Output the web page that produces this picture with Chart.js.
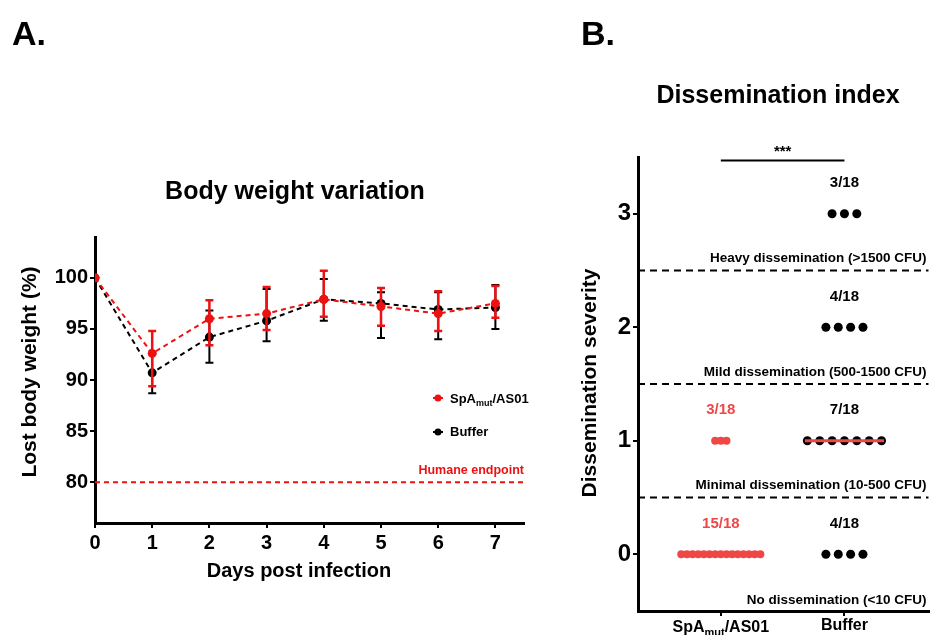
<!DOCTYPE html>
<html><head><meta charset="utf-8">
<script src="https://cdn.jsdelivr.net/npm/chart.js@4.4.0/dist/chart.umd.min.js"></script>
<style>
html,body{margin:0;padding:0;background:#fff;width:933px;height:635px;overflow:hidden}
#wa{position:absolute;left:0;top:0;width:560px;height:635px}
#wb{position:absolute;left:560px;top:0;width:373px;height:635px}
</style></head><body>
<div id="wa"><canvas id="ca"></canvas></div>
<div id="wb"><canvas id="cb"></canvas></div>
<script>
// ---------- Panel A data ----------
const days = [0, 1, 2, 3, 4, 5, 6, 7];
const spaMean = [100, 92.6, 96.0, 96.5, 97.9, 97.2, 96.5, 97.5];
const spaLow  = [100, 89.4, 93.4, 94.9, 96.2, 95.3, 94.8, 96.1];
const spaHigh = [100, 94.8, 97.8, 99.1, 100.7, 99.0, 98.7, 99.2];
const bufMean = [100, 90.7, 94.2, 95.8, 97.9, 97.5, 96.9, 97.1];
const bufLow  = [100, 88.7, 91.7, 93.8, 95.8, 94.1, 94.0, 95.0];
const bufHigh = [100, 92.6, 96.8, 98.9, 99.9, 98.6, 98.6, 99.3];
const weightTicks = [80, 85, 90, 95, 100];
const dayTicks = [0, 1, 2, 3, 4, 5, 6, 7];
const humaneEndpoint = 80;

// ---------- Panel B data ----------
const groupPos = [1, 2];
const severityLevels = [0, 1, 2, 3];
const spaCounts = [15, 3, 0, 0];
const bufCounts = [4, 7, 4, 3];
const totalN = 18;
const spaMedian = 0;
const bufMedian = 1;
const severityTicks = [0, 1, 2, 3];
const thresholds = [2.5, 1.5, 0.5];
const thresholdLabels = ['Heavy dissemination (>1500 CFU)', 'Mild dissemination (500-1500 CFU)', 'Minimal dissemination (10-500 CFU)'];
const belowLabel = 'No dissemination (<10 CFU)';

const FONT = "'Liberation Sans', Arial, sans-serif";
const RED = '#ee1111';
const RED2 = '#ef4646';

function txt(ctx, s, x, y, size, color, align, rot) {
  ctx.save();
  ctx.font = 'bold ' + size + 'px ' + FONT;
  ctx.fillStyle = color;
  ctx.textAlign = align || 'center';
  ctx.textBaseline = 'middle';
  ctx.translate(x, y);
  if (rot) ctx.rotate(rot);
  ctx.fillText(s, 0, 0);
  ctx.restore();
}
// draw "SpA" + subscript "mut" + "/AS01"
function subTxt(ctx, x, y, size, align) {
  ctx.save();
  ctx.fillStyle = '#000';
  ctx.textBaseline = 'alphabetic';
  const big = 'bold ' + size + 'px ' + FONT, small = 'bold ' + Math.round(size * 0.68) + 'px ' + FONT;
  ctx.font = big; const w1 = ctx.measureText('SpA').width, w3 = ctx.measureText('/AS01').width;
  ctx.font = small; const w2 = ctx.measureText('mut').width;
  const total = w1 + w2 + w3;
  let x0 = align === 'center' ? x - total / 2 : x;
  const base = y + size * 0.36;
  ctx.textAlign = 'left';
  ctx.font = big; ctx.fillText('SpA', x0, base);
  ctx.font = small; ctx.fillText('mut', x0 + w1, base + size * 0.25);
  ctx.font = big; ctx.fillText('/AS01', x0 + w1 + w2, base);
  ctx.restore();
}

const errorBars = {
  id: 'errorBars',
  beforeDatasetDraw(chart, args) {
    const ds = chart.data.datasets[args.index];
    if (!ds.errLow) return;
    const ctx = chart.ctx, xs = chart.scales.x, ys = chart.scales.y;
    ctx.save();
    ctx.strokeStyle = ds.borderColor;
    ctx.lineWidth = ds.errWidth;
    ds.data.forEach((p, i) => {
      const px = xs.getPixelForValue(p.x);
      const y1 = ys.getPixelForValue(ds.errLow[i]), y2 = ys.getPixelForValue(ds.errHigh[i]);
      if (Math.abs(y1 - y2) < 1) return;
      ctx.beginPath();
      ctx.moveTo(px, y1); ctx.lineTo(px, y2);
      ctx.moveTo(px - 4, y1); ctx.lineTo(px + 4, y1);
      ctx.moveTo(px - 4, y2); ctx.lineTo(px + 4, y2);
      ctx.stroke();
    });
    ctx.restore();
  }
};

const panelA = {
  id: 'panelA',
  beforeDatasetsDraw(chart) {
    const ctx = chart.ctx, ca = chart.chartArea, ys = chart.scales.y;
    const y = ys.getPixelForValue(humaneEndpoint);
    ctx.save();
    ctx.strokeStyle = RED; ctx.lineWidth = 2; ctx.setLineDash([5, 4]);
    ctx.beginPath(); ctx.moveTo(ca.left, y); ctx.lineTo(ca.right, y); ctx.stroke();
    ctx.restore();
  },
  afterDraw(chart) {
    const ctx = chart.ctx, ca = chart.chartArea, ys = chart.scales.y;
    txt(ctx, 'A.', 12, 36, 34, '#000', 'left');
    txt(ctx, 'Body weight variation', 295, 192, 25, '#000', 'center');
    txt(ctx, 'Lost body weight (%)', 30, 372, 21, '#000', 'center', -Math.PI / 2);
    txt(ctx, 'Days post infection', 299, 571, 20, '#000', 'center');
    txt(ctx, 'Humane endpoint', ca.right, ys.getPixelForValue(humaneEndpoint) - 12, 12.5, RED, 'right');
    // legend
    const items = [{c: RED, y: 398}, {c: '#000', y: 432}];
    items.forEach(it => {
      ctx.save();
      ctx.strokeStyle = it.c; ctx.fillStyle = it.c; ctx.lineWidth = 2;
      ctx.beginPath(); ctx.moveTo(433, it.y); ctx.lineTo(443, it.y); ctx.stroke();
      ctx.beginPath(); ctx.arc(438, it.y, 3.5, 0, Math.PI * 2); ctx.fill();
      ctx.restore();
    });
    subTxt(ctx, 450, 398, 13, 'left');
    txt(ctx, 'Buffer', 450, 432, 13, '#000', 'left');
  }
};

const pts = (arr) => days.map((d, i) => ({x: d, y: arr[i]}));

new Chart(document.getElementById('ca'), {
  type: 'line',
  data: {
    datasets: [
      {label: 'SpAmut/AS01', data: pts(spaMean), errLow: spaLow, errHigh: spaHigh, errWidth: 2.5,
       borderColor: RED, backgroundColor: RED, borderWidth: 2, borderDash: [5, 4],
       pointRadius: 4.5, pointBackgroundColor: RED, pointBorderWidth: 0, tension: 0},
      {label: 'Buffer', data: pts(bufMean), errLow: bufLow, errHigh: bufHigh, errWidth: 2,
       borderColor: '#000', backgroundColor: '#000', borderWidth: 2, borderDash: [5, 4],
       pointRadius: 4.5, pointBackgroundColor: '#000', pointBorderWidth: 0, tension: 0}
    ]
  },
  options: {
    responsive: true, maintainAspectRatio: false, animation: false,
    layout: {padding: {top: 237, right: 36, left: 0, bottom: 0}},
    plugins: {legend: {display: false}, tooltip: {enabled: false}, title: {display: false}},
    scales: {
      x: {type: 'linear', min: 0, max: 7.5,
          afterBuildTicks: s => { s.ticks = dayTicks.map(v => ({value: v})); },
          afterFit: s => { s.height = 112; },
          ticks: {color: '#000', font: {family: FONT, size: 20, weight: 'bold'}, padding: 3, maxRotation: 0, autoSkip: false},
          grid: {drawOnChartArea: false, drawTicks: true, tickLength: 5, color: '#000', lineWidth: 2},
          border: {color: '#000', width: 3}},
      y: {type: 'linear', min: 76, max: 104,
          afterBuildTicks: s => { s.ticks = weightTicks.map(v => ({value: v})); },
          afterFit: s => { s.width = 95; },
          ticks: {color: '#000', font: {family: FONT, size: 20, weight: 'bold'}, padding: 2},
          grid: {drawOnChartArea: false, drawTicks: true, tickLength: 5, color: '#000', lineWidth: 2},
          border: {color: '#000', width: 3}}
    }
  },
  plugins: [errorBars, panelA]
});

// ---------- Panel B ----------
function swarm(center, counts, spacing) {
  const out = [];
  severityLevels.forEach((lv, k) => {
    const n = counts[k];
    for (let i = 0; i < n; i++) out.push({x: center + (i - (n - 1) / 2) * spacing, y: lv});
  });
  return out;
}
const medianHalf = 0.32;

const panelB = {
  id: 'panelB',
  beforeDatasetsDraw(chart) {
    const ctx = chart.ctx, ca = chart.chartArea, ys = chart.scales.y;
    ctx.save();
    ctx.strokeStyle = '#000'; ctx.lineWidth = 2; ctx.setLineDash([7, 5]);
    thresholds.forEach(t => {
      const y = ys.getPixelForValue(t);
      ctx.beginPath(); ctx.moveTo(ca.left, y); ctx.lineTo(ca.right, y); ctx.stroke();
    });
    ctx.restore();
  },
  afterDraw(chart) {
    const ctx = chart.ctx, ca = chart.chartArea, xs = chart.scales.x, ys = chart.scales.y;
    txt(ctx, 'B.', 21, 36, 34, '#000', 'left');
    txt(ctx, 'Dissemination index', 218, 96, 25, '#000', 'center');
    txt(ctx, 'Dissemination severity', 30, 383, 21, '#000', 'center', -Math.PI / 2);
    thresholds.forEach((t, i) => txt(ctx, thresholdLabels[i], ca.right - 2, ys.getPixelForValue(t) - 12, 13.5, '#000', 'right'));
    txt(ctx, belowLabel, ca.right - 2, ys.getPixelForValue(-0.5) - 11, 13.5, '#000', 'right');
    severityLevels.forEach((lv, k) => {
      if (spaCounts[k] > 0) txt(ctx, spaCounts[k] + '/' + totalN, xs.getPixelForValue(groupPos[0]), ys.getPixelForValue(lv + 0.27), 15, RED2, 'center');
      if (bufCounts[k] > 0) txt(ctx, bufCounts[k] + '/' + totalN, xs.getPixelForValue(groupPos[1]), ys.getPixelForValue(lv + 0.27), 15, '#000', 'center');
    });
    // significance bar
    const yb = ys.getPixelForValue(3.47);
    const x1 = xs.getPixelForValue(groupPos[0]), x2 = xs.getPixelForValue(groupPos[1]);
    ctx.save(); ctx.strokeStyle = '#000'; ctx.lineWidth = 2;
    ctx.beginPath(); ctx.moveTo(x1, yb); ctx.lineTo(x2, yb); ctx.stroke(); ctx.restore();
    txt(ctx, '***', (x1 + x2) / 2, yb - 9, 15, '#000', 'center');
    // category labels
    subTxt(ctx, x1, 626, 16, 'center');
    txt(ctx, 'Buffer', x2, 626, 16, '#000', 'center');
  }
};

new Chart(document.getElementById('cb'), {
  type: 'scatter',
  data: {
    datasets: [
      {type: 'line', data: [{x: groupPos[0] - medianHalf, y: spaMedian}, {x: groupPos[0] + medianHalf, y: spaMedian}],
       borderColor: RED2, borderWidth: 3, pointRadius: 0, showLine: true},
      {type: 'line', data: [{x: groupPos[1] - medianHalf, y: bufMedian}, {x: groupPos[1] + medianHalf, y: bufMedian}],
       borderColor: RED2, borderWidth: 3, pointRadius: 0, showLine: true},
      {data: swarm(groupPos[0], spaCounts, 0.0457), pointRadius: 4, pointBackgroundColor: RED2, pointBorderWidth: 0},
      {data: swarm(groupPos[1], bufCounts, 0.1), pointRadius: 4.5, pointBackgroundColor: '#000', pointBorderWidth: 0}
    ]
  },
  options: {
    responsive: true, maintainAspectRatio: false, animation: false,
    layout: {padding: {top: 157, right: 1, left: 0, bottom: 0}},
    plugins: {legend: {display: false}, tooltip: {enabled: false}},
    scales: {
      x: {type: 'linear', min: 0.33, max: 2.68,
          afterBuildTicks: s => { s.ticks = groupPos.map(v => ({value: v})); },
          afterFit: s => { s.height = 24; },
          ticks: {callback: () => '', font: {size: 1}},
          grid: {drawOnChartArea: false, drawTicks: true, tickLength: 5, color: '#000', lineWidth: 2},
          border: {color: '#000', width: 3}},
      y: {type: 'linear', min: -0.5, max: 3.5,
          afterBuildTicks: s => { s.ticks = severityTicks.map(v => ({value: v})); },
          afterFit: s => { s.width = 78; },
          ticks: {color: '#000', font: {family: FONT, size: 24, weight: 'bold'}, padding: 2},
          grid: {drawOnChartArea: false, drawTicks: true, tickLength: 5, color: '#000', lineWidth: 2},
          border: {color: '#000', width: 3}}
    }
  },
  plugins: [panelB]
});
</script>
</body></html>
